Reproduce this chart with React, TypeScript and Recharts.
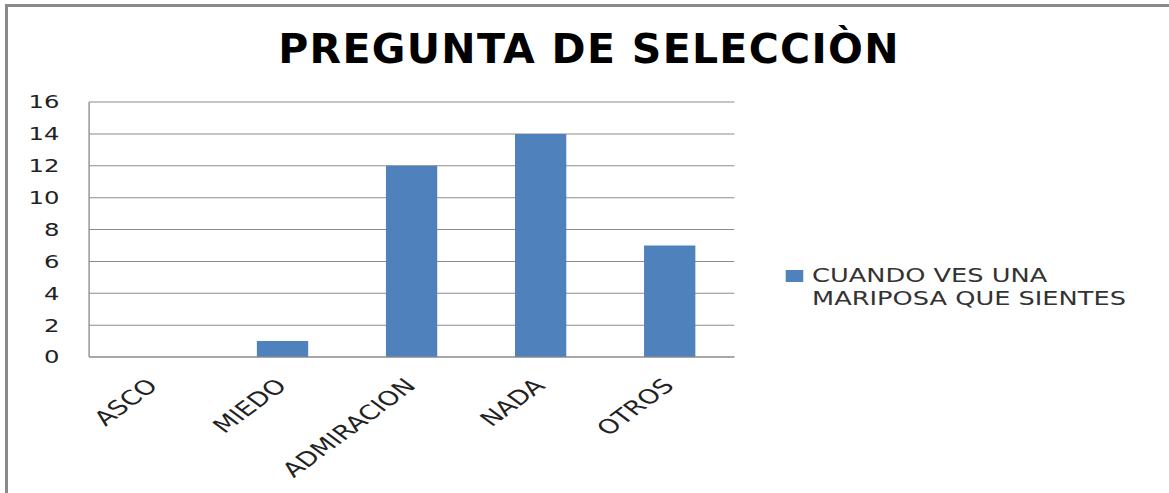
import { BarChart, Bar, XAxis, YAxis, CartesianGrid } from "recharts";

const categories = ["ASCO", "MIEDO", "ADMIRACION", "NADA", "OTROS"];
const values = [0, 1, 12, 14, 7];
const yTicks = [0, 2, 4, 6, 8, 10, 12, 14, 16];
const seriesName = "CUANDO VES UNA MARIPOSA QUE SIENTES";
const legendLines = ["CUANDO VES UNA", "MARIPOSA QUE SIENTES"];

const data = categories.map((c, i) => ({ name: c, value: values[i] }));

const FONT = "'DejaVu Sans', sans-serif";
// the original is stretched sideways, so the chart is drawn narrow and scaled
const STRETCH = 1.35;
const INNER_W = 866;

function XTick({ x, y, payload }: any) {
  const ax = x + 4;
  const ay = y + 22;
  return (
    <text
      x={ax}
      y={ay}
      transform={`rotate(-45, ${ax}, ${ay})`}
      textAnchor="end"
      fontSize={20}
      fontFamily={FONT}
      fill="#222"
    >
      {payload.value}
    </text>
  );
}

function YTick({ y, payload }: any) {
  return (
    <text x={44} y={y + 6.5} textAnchor="end" fontSize={18} fontFamily={FONT} fill="#222">
      {payload.value}
    </text>
  );
}

export default function App() {
  return (
    <div style={{ position: "absolute", left: 0, top: 0, width: 1169, height: 493, background: "#fff", overflow: "hidden" }}>
      <div
        style={{
          position: "absolute",
          left: 5,
          top: 4,
          width: 1200,
          height: 600,
          borderLeft: "3px solid #8a8a8a",
          borderTop: "3px solid #8a8a8a",
        }}
      />
      <div
        style={{
          position: "absolute",
          left: 0,
          top: 25,
          width: 1178,
          textAlign: "center",
          fontFamily: FONT,
          fontWeight: 700,
          fontSize: 41,
          letterSpacing: 1.3,
          color: "#000",
        }}
      >
        PREGUNTA DE SELECCIÒN
      </div>
      <div
        style={{
          position: "absolute",
          left: 0,
          top: 0,
          width: INNER_W,
          height: 493,
          transform: `scaleX(${STRETCH})`,
          transformOrigin: "0 0",
        }}
      >
        <BarChart
          width={INNER_W}
          height={493}
          data={data}
          margin={{ top: 102, right: 322, bottom: 0, left: 0 }}
          barCategoryGap="30%"
        >
          <CartesianGrid vertical={false} stroke="#8c8c8c" />
          <XAxis
            dataKey="name"
            height={136}
            axisLine={{ stroke: "#8c8c8c" }}
            tickLine={false}
            tick={<XTick />}
            interval={0}
          />
          <YAxis
            width={66}
            domain={[0, 16]}
            ticks={yTicks}
            axisLine={{ stroke: "#8c8c8c" }}
            tickLine={false}
            tick={<YTick />}
          />
          <Bar dataKey="value" name={seriesName} fill="#4f81bd" isAnimationActive={false} />
        </BarChart>
        <div
          style={{
            position: "absolute",
            left: 581.5,
            top: 264,
            display: "flex",
            alignItems: "flex-start",
            fontFamily: FONT,
            fontSize: 19,
            color: "#333",
            lineHeight: "23px",
          }}
        >
          <div style={{ width: 13, height: 12, background: "#4f81bd", marginTop: 6, marginRight: 7 }} />
          <div>
            {legendLines.map((l) => (
              <div key={l} style={{ whiteSpace: "nowrap" }}>{l}</div>
            ))}
          </div>
        </div>
      </div>
    </div>
  );
}
